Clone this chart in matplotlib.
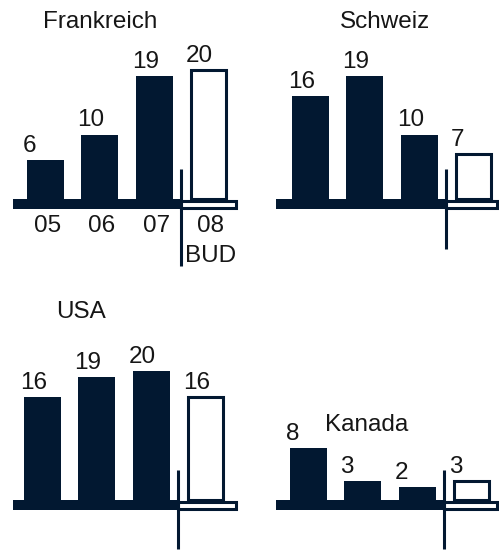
import matplotlib
matplotlib.use("Agg")
import matplotlib.pyplot as plt
from matplotlib.patches import Rectangle

plt.rcParams['font.family'] = ['Liberation Sans', 'DejaVu Sans']

# data
countries = ["Frankreich", "Schweiz", "USA", "Kanada"]
years = ["05", "06", "07", "08\nBUD"]
frankreich = [6, 10, 19, 20]
schweiz = [16, 19, 10, 7]
usa = [16, 19, 20, 16]
kanada = [8, 3, 2, 3]
values = [frankreich, schweiz, usa, kanada]

NAVY = "#021831"
TEXT = "#161616"
FS = 17.5
W, H = 499, 550
STEP = 54.3    # px between bar centres
SCALE = 6.45   # px per unit
BAND = 10      # thickness of the base band, px

# panel boxes in pixels: left, right, first bar centre, top, baseline, divider bottom
layout = [
    (13, 237, 45.5, 0, 199, 266),
    (276, 498, 310.5, 0, 199, 249),
    (13, 237, 42.5, 290, 500, 549),
    (276, 498, 308.5, 290, 500, 549),
]
title_pos = [(100, 28), (385, 28), (81, 318), (367, 431)]

fig = plt.figure(figsize=(W / 100, H / 100), dpi=100)

for k, (name, vals) in enumerate(zip(countries, values)):
    L, R, c0, T, base, dbot = layout[k]
    ax = fig.add_axes([L / W, 1 - (base + BAND) / H, (R - L) / W, (base + BAND - T) / H])
    x0, x1 = (L - c0) / STEP, (R - c0) / STEP
    ax.set_xlim(x0, x1)
    ax.set_ylim(-BAND / SCALE, (base - T) / SCALE)
    ax.axis('off')

    xs = list(range(len(vals)))
    # actual years: solid bars, budget: outlined
    ax.bar(xs[:3], vals[:3], width=0.68, color=NAVY, zorder=2)
    ax.bar(xs[3], vals[3], width=0.65, facecolor='white', edgecolor=NAVY,
           linewidth=2.2, zorder=2)

    # base band
    ax.add_patch(Rectangle((x0, -BAND / SCALE), 2.5 - x0, BAND / SCALE,
                           color=NAVY, lw=0, zorder=3))
    ax.add_patch(Rectangle((2.5, -(BAND - 1.5) / SCALE), x1 - 2.5 - 1.5 / STEP,
                           (BAND - 3) / SCALE, facecolor='white', edgecolor=NAVY,
                           lw=2.2, zorder=3, clip_on=False))
    # divider between actuals and budget
    ax.plot([2.5, 2.5], [30 / SCALE, -(dbot - base) / SCALE], color=NAVY,
            lw=2.2, zorder=4, clip_on=False, solid_capstyle='butt')

    for i, v in zip(xs, vals):
        ax.annotate(str(v), (i - 0.34, v), xytext=(-4, 8), textcoords='offset pixels',
                    ha='left', va='baseline', fontsize=FS, color=TEXT,
                    annotation_clip=False)

    if k == 0:
        for i, lbl in zip(xs, years):
            ax.annotate(lbl, (i, -BAND / SCALE), xytext=(2, -6), textcoords='offset pixels',
                        ha='center', va='top', fontsize=FS, color=TEXT,
                        linespacing=1.45, annotation_clip=False)

    tx, ty = title_pos[k]
    fig.text(tx / W, 1 - ty / H, name, ha='center', va='baseline', fontsize=FS, color=TEXT)

fig.savefig('out.png', dpi=100)
